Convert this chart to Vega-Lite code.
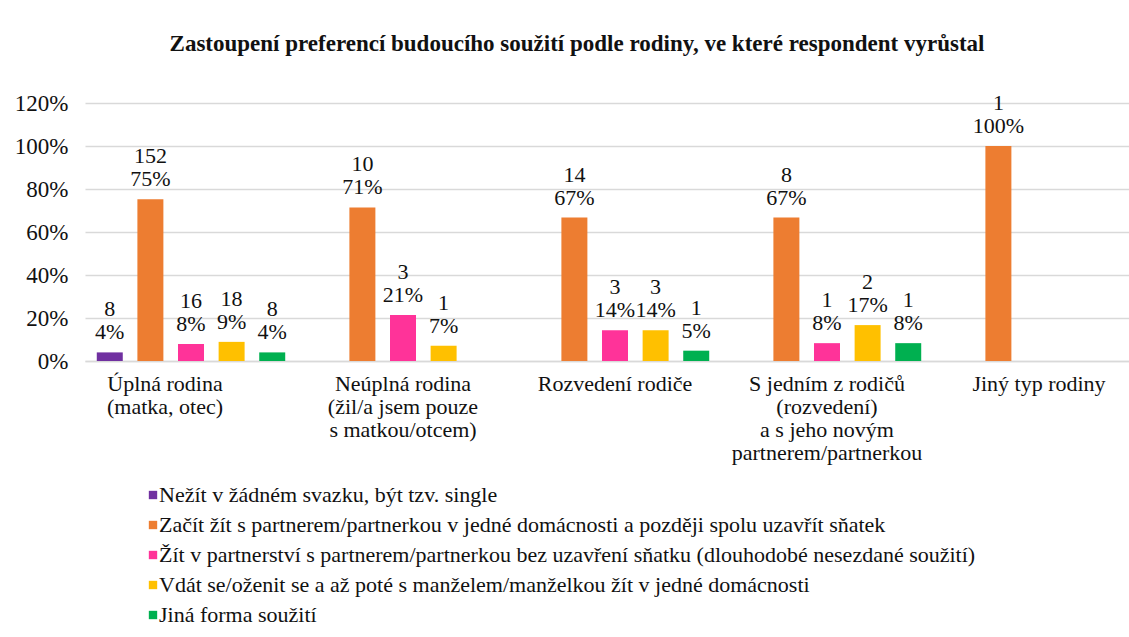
{
  "$schema": "https://vega.github.io/schema/vega-lite/v6.json",
  "width": 1044,
  "height": 258,
  "autosize": {"type": "none"},
  "padding": {"left": 85, "top": 103, "right": 0, "bottom": 276},
  "background": "white",
  "title": {
    "text": "Zastoupení preferencí budoucího soužití podle rodiny, ve které respondent vyrůstal",
    "font": "Liberation Serif, Times New Roman, serif",
    "fontSize": 23,
    "fontWeight": "bold",
    "color": "#111111",
    "anchor": "middle",
    "dx": -30,
    "offset": 36
  },
  "data": {
    "values": [
      {"rodina": "Úplná rodina|(matka, otec)", "forma": "Nežít v žádném svazku, být tzv. single", "pocet": 8, "podil": 0.04},
      {"rodina": "Úplná rodina|(matka, otec)", "forma": "Začít žít s partnerem/partnerkou v jedné domácnosti a později spolu uzavřít sňatek", "pocet": 152, "podil": 0.752},
      {"rodina": "Úplná rodina|(matka, otec)", "forma": "Žít v partnerství s partnerem/partnerkou bez uzavření sňatku (dlouhodobé nesezdané soužití)", "pocet": 16, "podil": 0.079},
      {"rodina": "Úplná rodina|(matka, otec)", "forma": "Vdát se/oženit se a až poté s manželem/manželkou žít v jedné domácnosti", "pocet": 18, "podil": 0.089},
      {"rodina": "Úplná rodina|(matka, otec)", "forma": "Jiná forma soužití", "pocet": 8, "podil": 0.04},
      {"rodina": "Neúplná rodina|(žil/a jsem pouze|s matkou/otcem)", "forma": "Začít žít s partnerem/partnerkou v jedné domácnosti a později spolu uzavřít sňatek", "pocet": 10, "podil": 0.714},
      {"rodina": "Neúplná rodina|(žil/a jsem pouze|s matkou/otcem)", "forma": "Žít v partnerství s partnerem/partnerkou bez uzavření sňatku (dlouhodobé nesezdané soužití)", "pocet": 3, "podil": 0.214},
      {"rodina": "Neúplná rodina|(žil/a jsem pouze|s matkou/otcem)", "forma": "Vdát se/oženit se a až poté s manželem/manželkou žít v jedné domácnosti", "pocet": 1, "podil": 0.071},
      {"rodina": "Rozvedení rodiče", "forma": "Začít žít s partnerem/partnerkou v jedné domácnosti a později spolu uzavřít sňatek", "pocet": 14, "podil": 0.667},
      {"rodina": "Rozvedení rodiče", "forma": "Žít v partnerství s partnerem/partnerkou bez uzavření sňatku (dlouhodobé nesezdané soužití)", "pocet": 3, "podil": 0.143},
      {"rodina": "Rozvedení rodiče", "forma": "Vdát se/oženit se a až poté s manželem/manželkou žít v jedné domácnosti", "pocet": 3, "podil": 0.143},
      {"rodina": "Rozvedení rodiče", "forma": "Jiná forma soužití", "pocet": 1, "podil": 0.048},
      {"rodina": "S jedním z rodičů|(rozvedení)|a s jeho novým|partnerem/partnerkou", "forma": "Začít žít s partnerem/partnerkou v jedné domácnosti a později spolu uzavřít sňatek", "pocet": 8, "podil": 0.667},
      {"rodina": "S jedním z rodičů|(rozvedení)|a s jeho novým|partnerem/partnerkou", "forma": "Žít v partnerství s partnerem/partnerkou bez uzavření sňatku (dlouhodobé nesezdané soužití)", "pocet": 1, "podil": 0.083},
      {"rodina": "S jedním z rodičů|(rozvedení)|a s jeho novým|partnerem/partnerkou", "forma": "Vdát se/oženit se a až poté s manželem/manželkou žít v jedné domácnosti", "pocet": 2, "podil": 0.167},
      {"rodina": "S jedním z rodičů|(rozvedení)|a s jeho novým|partnerem/partnerkou", "forma": "Jiná forma soužití", "pocet": 1, "podil": 0.083},
      {"rodina": "Jiný typ rodiny", "forma": "Začít žít s partnerem/partnerkou v jedné domácnosti a později spolu uzavřít sňatek", "pocet": 1, "podil": 1.0}
    ]
  },
  "encoding": {
    "x": {
      "field": "rodina",
      "type": "nominal",
      "sort": null,
      "scale": {"range": [0, 1060], "paddingInner": 0, "paddingOuter": 0},
      "axis": {
        "title": null,
        "labelAngle": 0,
        "labelExpr": "split(datum.label, '|')",
        "labelFont": "Liberation Serif, Times New Roman, serif",
        "labelFontSize": 22,
        "labelColor": "#111111",
        "labelLineHeight": 23,
        "labelBaseline": "top",
        "labelPadding": 12,
        "labelLimit": 0,
        "labelOffset": {"condition": {"test": "datum.value === 'Úplná rodina|(matka, otec)'", "value": -26}, "value": 0},
        "ticks": false,
        "domain": true,
        "domainColor": "#d9d9d9",
        "domainWidth": 1.5,
        "grid": false
      }
    },
    "xOffset": {
      "field": "forma",
      "type": "nominal",
      "sort": null,
      "scale": {"paddingInner": 0.36, "paddingOuter": 0.29}
    }
  },
  "layer": [
    {
      "mark": {"type": "bar"},
      "encoding": {
        "y": {
          "field": "podil",
          "type": "quantitative",
          "scale": {"domain": [0, 1.2], "nice": false},
          "axis": {
            "title": null,
            "format": ".0%",
            "values": [0, 0.2, 0.4, 0.6, 0.8, 1.0, 1.2],
            "labelFont": "Liberation Serif, Times New Roman, serif",
            "labelFontSize": 23,
            "labelColor": "#111111",
            "labelPadding": 17,
            "ticks": false,
            "domain": false,
            "grid": true,
            "gridColor": "#d9d9d9",
            "gridWidth": 1.5
          }
        },
        "color": {
          "field": "forma",
          "type": "nominal",
          "sort": null,
          "scale": {"range": ["#7030A0", "#ED7D31", "#FF3399", "#FFC000", "#00B050"]},
          "legend": {
            "title": null,
            "orient": "none",
            "legendX": 57,
            "legendY": 381,
            "direction": "vertical",
            "symbolType": "square",
            "symbolSize": 70,
            "symbolStrokeWidth": 0,
            "labelFont": "Liberation Serif, Times New Roman, serif",
            "labelFontSize": 22,
            "labelColor": "#111111",
            "labelLimit": 1200,
            "labelOffset": -5,
            "rowPadding": 8
          }
        }
      }
    },
    {
      "mark": {"type": "text", "dy": -43, "font": "Liberation Serif, Times New Roman, serif", "fontSize": 22, "color": "#111111", "baseline": "middle"},
      "encoding": {
        "y": {"field": "podil", "type": "quantitative"},
        "text": {"field": "pocet", "type": "quantitative"}
      }
    },
    {
      "mark": {"type": "text", "dy": -20, "font": "Liberation Serif, Times New Roman, serif", "fontSize": 22, "color": "#111111", "baseline": "middle"},
      "encoding": {
        "y": {"field": "podil", "type": "quantitative"},
        "text": {"field": "podil", "type": "quantitative", "format": ".0%"}
      }
    }
  ],
  "config": {"view": {"stroke": null}}
}
